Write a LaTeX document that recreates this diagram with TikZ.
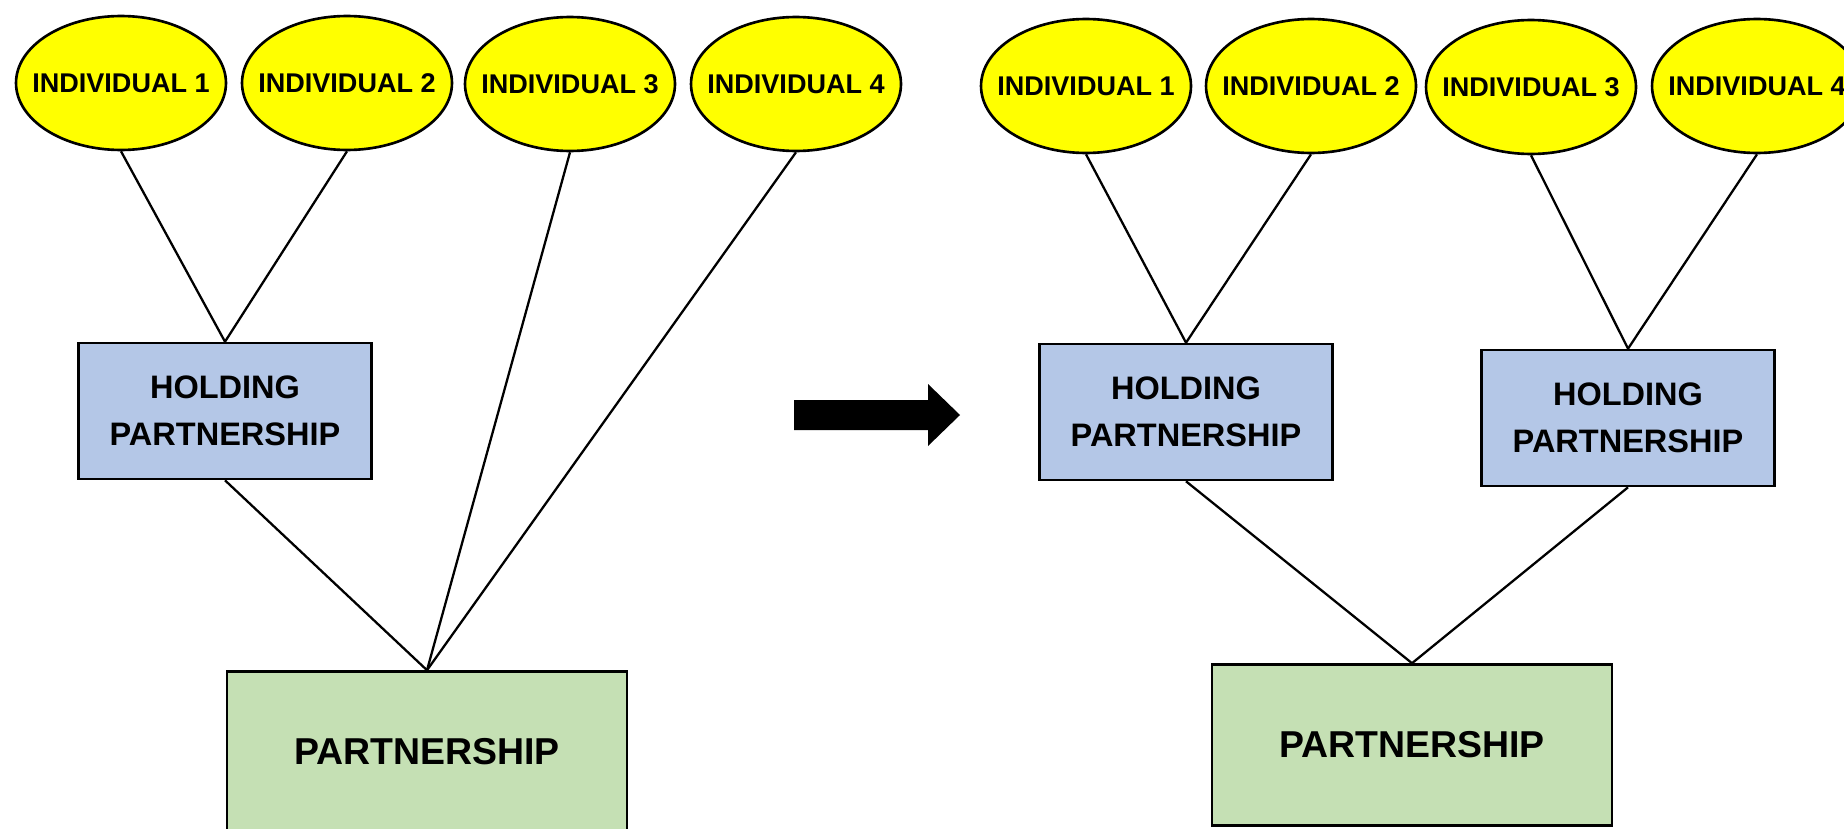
\documentclass[tikz,border=0pt]{standalone}
\usepackage{fontspec}
\setmainfont{Liberation Sans}
\usetikzlibrary{shapes.geometric}
\definecolor{indyellow}{RGB}{255,255,0}
\definecolor{holdblue} {RGB}{180,199,231}
\definecolor{partgreen}{RGB}{197,224,180}

\begin{document}
\begin{tikzpicture}[
  x=0.02cm, y=-0.02cm,
  indiv/.style={ellipse,draw,line width=1.5pt,fill=indyellow,inner sep=0pt,
    minimum width=4.2cm,minimum height=2.68cm,
    font=\fontsize{15.4}{18}\selectfont\bfseries},
  holding/.style={rectangle,draw,line width=1.5pt,fill=holdblue,inner sep=0pt,
    minimum width=5.86cm,minimum height=2.72cm,align=center,
    font=\fontsize{18.5}{26.7}\selectfont\bfseries},
  partner/.style={rectangle,draw,line width=1.5pt,fill=partgreen,inner sep=0pt,
    minimum width=8cm,minimum height=3.22cm,
    font=\fontsize{21.3}{24}\selectfont\bfseries},
  link/.style={line width=1.3pt},
]
\clip (0,0) rectangle (1844,828);

%% Before: individuals, holding, partnership
\foreach \x/\y/\n in {121/83/1,347/83/2,570/84/3,796/84/4}{
  \node[indiv] (a\n) at (\x,\y) {\makebox[0pt]{INDIVIDUAL \n}};
}
\node[holding] (ha) at (225,411) {HOLDING\\PARTNERSHIP};
\node[partner] (pa) at (427,752) {PARTNERSHIP};

\draw[link] (a1.south) -- (ha.north);
\draw[link] (a2.south) -- (ha.north);
\draw[link] (ha.south) -- (pa.north);
\draw[link] (a3.south) -- (pa.north);
\draw[link] (a4.south) -- (pa.north);

%% Transition arrow
\fill (794,400) -- (928,400) -- (928,384) -- (960,415) -- (928,446)
  -- (928,430) -- (794,430) -- cycle;

%% After: two holdings
\foreach \x/\y/\n in {1086/86/1,1311/86/2,1531/87/3,1757/86/4}{
  \node[indiv] (b\n) at (\x,\y) {\makebox[0pt]{INDIVIDUAL \n}};
}
\node[holding] (hb1) at (1186,412) {HOLDING\\PARTNERSHIP};
\node[holding] (hb2) at (1628,418) {HOLDING\\PARTNERSHIP};
\node[partner] (pb) at (1412,745) {PARTNERSHIP};

\draw[link] (b1.south) -- (hb1.north);
\draw[link] (b2.south) -- (hb1.north);
\draw[link] (b3.south) -- (hb2.north);
\draw[link] (b4.south) -- (hb2.north);
\draw[link] (hb1.south) -- (pb.north);
\draw[link] (hb2.south) -- (pb.north);

\end{tikzpicture}
\end{document}
